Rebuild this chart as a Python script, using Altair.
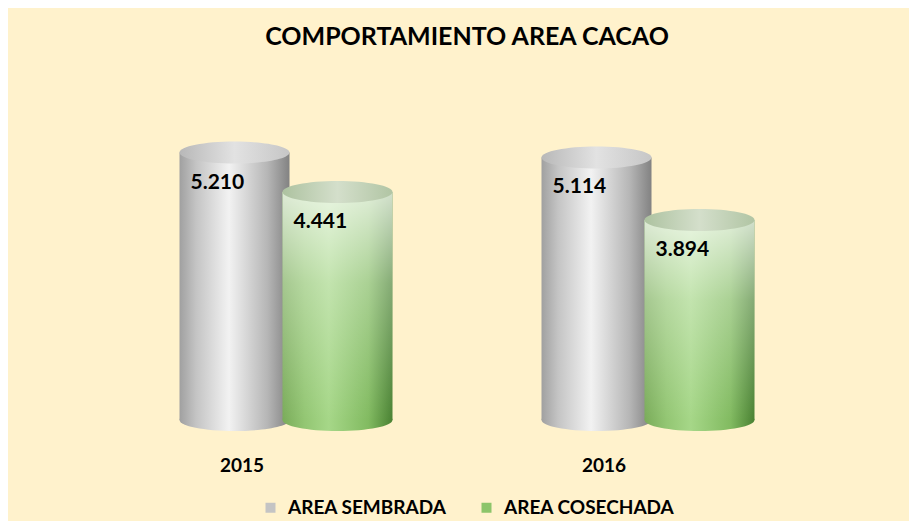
import altair as alt
import pandas as pd

years = ["2015", "2016"]
series = ["AREA SEMBRADA", "AREA COSECHADA"]
sembrada = [5210, 5114]
cosechada = [4441, 3894]

rows = []
for i, y in enumerate(years):
    rows.append({"year": y, "serie": series[0], "value": sembrada[i]})
    rows.append({"year": y, "serie": series[1], "value": cosechada[i]})
df = pd.DataFrame(rows)

BG = "#FFF2CC"
FONT = "Lato"

ELLIPSE = "M -1 0 A 1 0.2 0 1 0 1 0 A 1 0.2 0 1 0 -1 0 Z"
BAR_W = 110


def lin(stops, vertical=False):
    return alt.LinearGradient(
        gradient="linear",
        x1=0, y1=0,
        x2=0 if vertical else 1,
        y2=1 if vertical else 0,
        stops=[alt.GradientStop(offset=o, color=c) for o, c in stops],
    )


grey_body = lin([(0, "#A0A0A0"), (0.15, "#C4C4C4"), (0.45, "#F2F2F2"), (0.8, "#B6B6B6"), (1, "#828282")])
grey_cap = lin([(0, "#B8B8B8"), (0.5, "#E2E2E2"), (1, "#C6C6C6")])
green_body = lin([(0, "#7AAC5A"), (0.2, "#93C673"), (0.42, "#A6D788"), (0.78, "#82BB61"), (1, "#4A8233")])
green_cap = lin([(0, "#ADC2A0"), (0.5, "#D4DFCB"), (1, "#B1C5A4")])
green_gloss = lin([(0, "rgba(255,255,255,0.75)"), (0.4, "rgba(255,255,255,0.32)"), (1, "rgba(255,255,255,0)")], vertical=True)

x_enc = alt.X(
    "year:N",
    sort=years,
    scale=alt.Scale(paddingInner=0.431, paddingOuter=0.2155),
    axis=alt.Axis(
        title=None, domain=False, ticks=False, labelAngle=0, labelFont=FONT,
        labelFontWeight="bold", labelFontSize=19, labelColor="black",
        labelPadding=36, labelOffset=-44, grid=False,
    ),
)
xo_enc = alt.XOffset("serie:N", sort=series,
                     scale=alt.Scale(domain=series, paddingInner=0, paddingOuter=0))
y_enc = alt.Y("value:Q", scale=alt.Scale(domain=[0, 6000]), axis=None)

base = alt.Chart(df).transform_calculate(zero="0").encode(x=x_enc, xOffset=xo_enc)


def cylinder(serie, body, cap, gloss=None):
    b = base.transform_filter(alt.datum.serie == serie)
    layers = [
        b.mark_point(shape=ELLIPSE, size=BAR_W * BAR_W, filled=True, opacity=1,
                     fill=body, strokeWidth=0).encode(y=alt.Y("zero:Q", scale=alt.Scale(domain=[0, 6000]), axis=None)),
        b.mark_bar(width=BAR_W, fill=body, opacity=1).encode(y=y_enc, y2=alt.Y2("zero:Q")),
    ]
    if gloss is not None:
        layers.append(b.mark_bar(width=BAR_W, fill=gloss, opacity=1).encode(y=y_enc, y2=alt.Y2("zero:Q")))
    layers.append(
        b.mark_point(shape=ELLIPSE, size=BAR_W * BAR_W, filled=True, opacity=1,
                     fill=cap, strokeWidth=0).encode(y=y_enc)
    )
    layers.append(
        b.transform_calculate(lbl="replace(format(datum.value, ','), ',', '.')")
        .mark_text(align="left", baseline="middle", dx=-44, dy=30, font=FONT,
                   fontWeight="bold", fontSize=21, color="black")
        .encode(y=y_enc, text="lbl:N")
    )
    return layers


legend_layer = base.mark_square(opacity=0, size=0).encode(
    y=y_enc,
    color=alt.Color(
        "serie:N",
        scale=alt.Scale(domain=series, range=["#C4C4C4", "#8CC56A"]),
        legend=alt.Legend(
            title=None, orient="none", direction="horizontal", legendX=156, legendY=386,
            symbolType="square", symbolSize=100, symbolOpacity=1, symbolStrokeWidth=0,
            labelFont=FONT, labelFontWeight="bold", labelFontSize=19, labelColor="black",
            columnPadding=30, labelOffset=8, labelLimit=300,
        ),
    ),
)

layers = cylinder(series[0], grey_body, grey_cap) + cylinder(series[1], green_body, green_cap, green_gloss) + [legend_layer]

chart = (
    alt.layer(*layers)
    .properties(
        width=724, height=308,
        title=alt.TitleParams("COMPORTAMIENTO  AREA CACAO", font=FONT, fontSize=25,
                              fontWeight="bold", color="black", anchor="middle", offset=62),
        background=BG,
        padding={"left": 97, "top": 104, "right": 80, "bottom": 101},
        autosize=alt.AutoSizeParams(type="none"),
    )
    .configure_view(stroke=None)
)

chart.save("out.html", embed_options={"renderer": "svg", "actions": False})
